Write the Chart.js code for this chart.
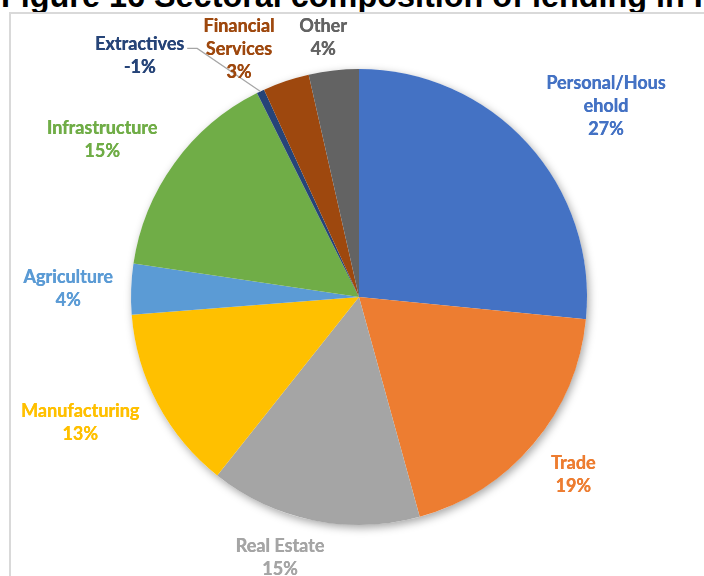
<!DOCTYPE html>
<html lang="en">
<head>
    <meta charset="UTF-8">
    <title>Sectoral composition of lending</title>
    <style>
        body { margin: 0; padding: 0; background: #fff; width: 704px; height: 576px; overflow: hidden; position: relative; }
        .title { position: absolute; left: 1px; top: -20px; font-family: "Liberation Sans", Arial, sans-serif; font-weight: bold; font-size: 32.4px; line-height: 32px; color: #000; white-space: nowrap; }
        .frame { position: absolute; left: 9px; top: 12px; width: 800px; height: 700px; border: 2px solid #d9d9d9; }
        #pie { position: absolute; left: 0; top: 0; }
    </style>
</head>
<body>
    <div class="title">Figure 16 Sectoral composition of lending in PNG</div>
    <div class="frame"></div>
    <canvas id="pie" width="704" height="576"></canvas>

    <script src="https://cdn.jsdelivr.net/npm/chart.js"></script>
    <script>
    // sectors, share of lending (%)
    const sectors = ['Personal/Household', 'Trade', 'Real Estate', 'Manufacturing', 'Agriculture',
                     'Infrastructure', 'Extractives', 'Financial Services', 'Other'];
    const shares = [26.6, 19.2, 15.0, 13.1, 3.6, 15.3, -0.55, 3.3, 3.55];
    const colors = ['#4472C4', '#ED7D31', '#A5A5A5', '#FFC000', '#5B9BD5',
                    '#70AD47', '#264478', '#9E480E', '#636363'];

    // label text as wrapped in the chart
    const labelLines = [['Personal/Hous', 'ehold'], ['Trade'], ['Real Estate'], ['Manufacturing'], ['Agriculture'],
                        ['Infrastructure'], ['Extractives'], ['Financial', 'Services'], ['Other']];
    // where each label sits: [degrees clockwise from top, distance from centre]
    const labelSpots = [[52.3, 312], [129.6, 278], [196.9, 272], [245.7, 306], [271.6, 291],
                        [301.4, 301], [317.7, 326], [334.1, 275], [352.1, 262]];

    const FONT = 'bold 18px Lato, "Open Sans", sans-serif';
    const LINE_H = 23;

    // soft drop shadow under the whole pie
    const pieShadow = {
        id: 'pieShadow',
        beforeDatasetsDraw(chart) {
            const arc = chart.getDatasetMeta(0).data[0];
            if (!arc) return;
            const ctx = chart.ctx;
            ctx.save();
            ctx.shadowColor = 'rgba(0,0,0,0.35)';
            ctx.shadowBlur = 9;
            ctx.shadowOffsetX = 2;
            ctx.shadowOffsetY = 3;
            ctx.fillStyle = '#fff';
            ctx.beginPath();
            ctx.arc(arc.x, arc.y, arc.outerRadius, 0, Math.PI * 2);
            ctx.fill();
            ctx.restore();
        }
    };

    // sector name + rounded percentage outside the pie
    const outsideLabels = {
        id: 'outsideLabels',
        afterDatasetsDraw(chart) {
            const ctx = chart.ctx;
            const arcs = chart.getDatasetMeta(0).data;
            ctx.save();
            ctx.font = FONT;
            ctx.textAlign = 'center';
            ctx.textBaseline = 'middle';
            arcs.forEach((arc, i) => {
                const a = labelSpots[i][0] * Math.PI / 180;
                const cx = arc.x + labelSpots[i][1] * Math.sin(a);
                const cy = arc.y - labelSpots[i][1] * Math.cos(a);
                const lines = labelLines[i].concat([Math.round(shares[i]) + '%']);
                const top = cy - (lines.length - 1) * LINE_H / 2;
                ctx.fillStyle = colors[i];
                lines.forEach((t, k) => {
                    ctx.fillText(t, cx, top + k * LINE_H);
                    // a touch heavier, like the chart's bold face
                    ctx.fillText(t, cx + 0.35, top + k * LINE_H);
                });

                // leader line for the thin Extractives slice
                if (sectors[i] === 'Extractives') {
                    const mid = (arc.startAngle + arc.endAngle) / 2;
                    const ex = arc.x + arc.outerRadius * Math.cos(mid);
                    const ey = arc.y + arc.outerRadius * Math.sin(mid);
                    const sx = cx + ctx.measureText(labelLines[i][0]).width / 2 + 3;
                    const sy = top + 4;
                    ctx.strokeStyle = '#a6a6a6';
                    ctx.lineWidth = 1.2;
                    ctx.beginPath();
                    ctx.moveTo(sx, sy);
                    ctx.lineTo(sx + 10, sy);
                    ctx.lineTo(ex, ey);
                    ctx.stroke();
                }
            });
            ctx.restore();
        }
    };

    new Chart(document.getElementById('pie'), {
        type: 'pie',
        data: {
            labels: sectors,
            datasets: [{
                data: shares,
                backgroundColor: colors,
                borderWidth: 0
            }]
        },
        options: {
            responsive: false,
            animation: false,
            layout: { padding: { left: 131, right: 117, top: 69, bottom: 51 } },
            plugins: {
                legend: { display: false },
                tooltip: { enabled: false }
            }
        },
        plugins: [pieShadow, outsideLabels]
    });
    </script>
</body>
</html>
